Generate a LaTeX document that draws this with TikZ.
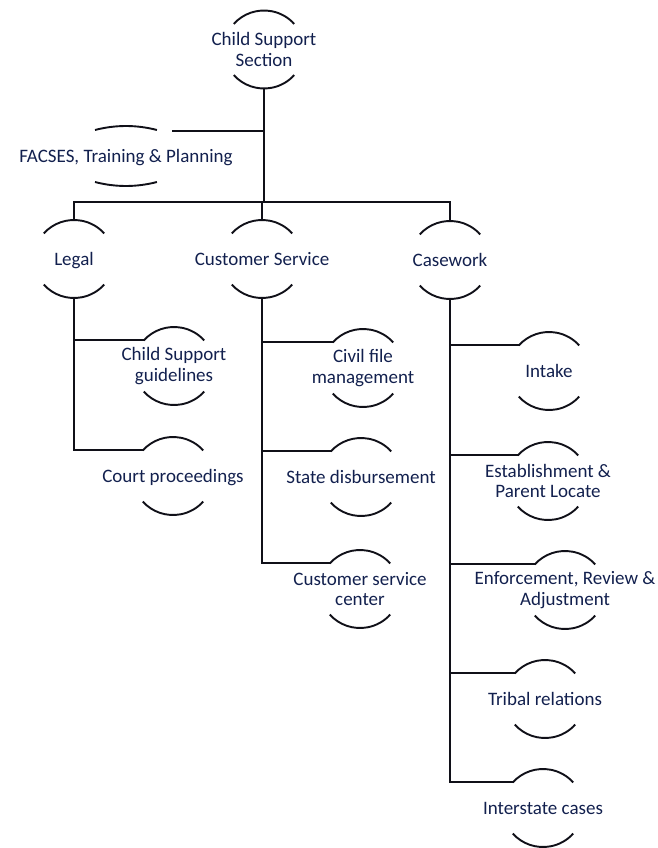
\documentclass[tikz,border=0pt]{standalone}
\usepackage{fontspec}
\setmainfont{Carlito}
\definecolor{navytext}{RGB}{18,32,78}
\definecolor{linecol}{RGB}{16,16,24}
\tikzset{
  lbl/.style={inner sep=0pt, align=center, text=navytext,
    font=\fontsize{19pt}{20.5pt}\selectfont},
  lblone/.style={lbl, text height=13pt, text depth=0pt},
  arcline/.style={draw=linecol, line width=1.9pt},
  conn/.style={draw=linecol, line width=1.9pt},
}
% name, x, y (pixels, y downward), style, text
\newcommand\orgunit[5]{%
  \coordinate (#1-c) at (#2,-#3);
  \node[#4] (#1) at (#1-c) {#5};
  \draw[arcline] ([shift={(139:40pt and 39pt)}]#1-c) coordinate (#1-tl)
     arc[start angle=139, end angle=41, x radius=40pt, y radius=39pt];
  \draw[arcline] ([shift={(221:40pt and 39pt)}]#1-c)
     arc[start angle=221, end angle=319, x radius=40pt, y radius=39pt];
  \coordinate (#1-t) at ([yshift=39pt]#1-c);
  \coordinate (#1-b) at ([yshift=-39pt]#1-c);
}
\begin{document}
\begin{tikzpicture}[x=1pt,y=1pt]
\useasboundingbox (0,0) rectangle (657,-848);

% root
\orgunit{css}{264}{49.5}{lbl}{Child Support\\Section}

% FACSES (flat arcs)
\coordinate (facses-c) at (126,-156);
\node[lblone] (facses) at (facses-c) {FACSES, Training \& Planning};
\draw[arcline] ([shift={(-31pt,26pt)}]facses-c)
   arc[start angle=104.7, end angle=75.3, radius=122pt];
\draw[arcline] ([shift={(-31pt,-26pt)}]facses-c)
   arc[start angle=255.3, end angle=284.7, radius=122pt];
\coordinate (facses-end) at ([shift={(46pt,25pt)}]facses-c);

% second level
\orgunit{legal}{74}{259}{lblone}{Legal}
\orgunit{cs}{262}{259}{lblone}{Customer Service}
\orgunit{cw}{450}{260}{lblone}{Casework}

% Legal children
\orgunit{csg}{174}{366}{lbl}{Child Support\\guidelines}
\orgunit{court}{173}{476}{lblone}{Court proceedings}

% Customer Service children
\orgunit{cfm}{363}{368}{lbl}{Civil file\\management}
\orgunit{sd}{361}{477}{lblone}{State disbursement}
\orgunit{csc}{360}{589}{lbl}{Customer service\\center}

% Casework children
\orgunit{intake}{549}{371}{lblone}{Intake}
\orgunit{est}{548}{481}{lbl}{Establishment \&\\Parent Locate}
\orgunit{enf}{565}{590}{lbl}{Enforcement, Review \&\\Adjustment}
\orgunit{tribal}{545}{699}{lblone}{Tribal relations}
\orgunit{inter}{543}{808}{lblone}{Interstate cases}

% connectors
\coordinate (bus) at (0,-202);
\draw[conn] (css-b) -- (css-b |- bus);
\draw[conn] (css-b |- facses-end) -- (facses-end);
\draw[conn] (legal-t) -- (legal-t |- bus) -- (cw-t |- bus) -- (cw-t);
\draw[conn] (cs-t) -- (cs-t |- bus);

\draw[conn] (legal-b) |- (court-tl);
\draw[conn] (legal-b |- csg-tl) -- (csg-tl);

\draw[conn] (cs-b) |- (csc-tl);
\draw[conn] (cs-b |- cfm-tl) -- (cfm-tl);
\draw[conn] (cs-b |- sd-tl) -- (sd-tl);

\draw[conn] (cw-b) |- (inter-tl);
\draw[conn] (cw-b |- intake-tl) -- (intake-tl);
\draw[conn] (cw-b |- est-tl) -- (est-tl);
\draw[conn] (cw-b |- enf-tl) -- (enf-tl);
\draw[conn] (cw-b |- tribal-tl) -- (tribal-tl);
\end{tikzpicture}
\end{document}
